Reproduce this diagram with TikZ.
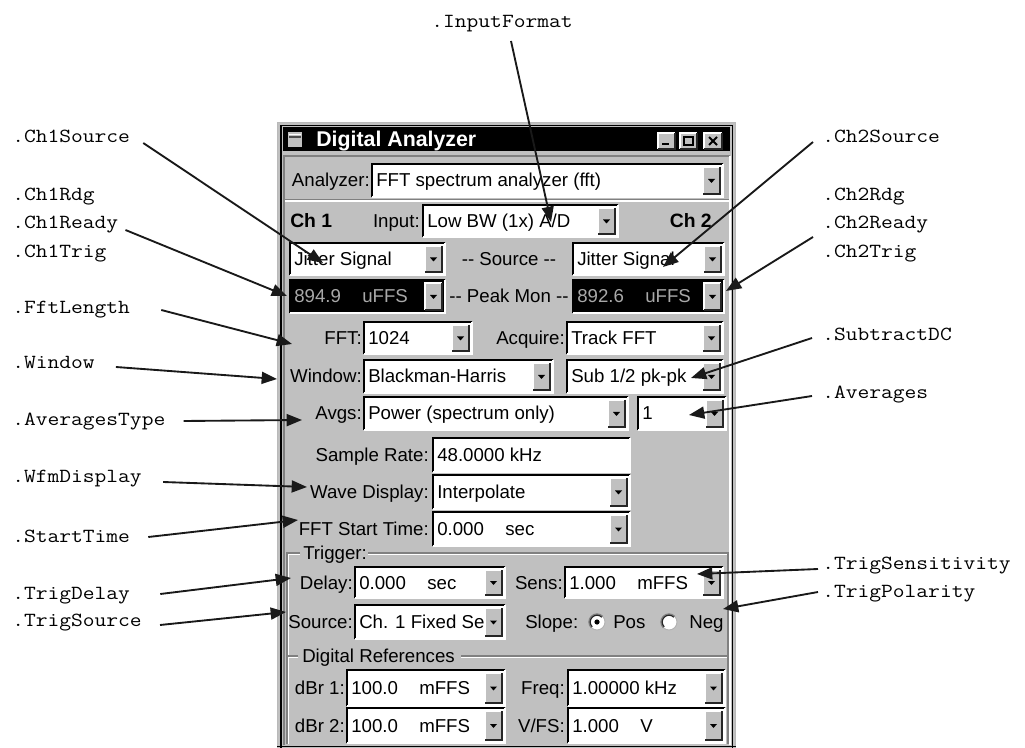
\documentclass[tikz,border=0pt]{standalone}
\usepackage{fontspec}
\usepackage{graphicx}
\setmainfont{Liberation Sans}
\usetikzlibrary{arrows.meta,calc}

\definecolor{wingray}{HTML}{C0C0C0}
\definecolor{windark}{HTML}{808080}
\definecolor{lcdtext}{HTML}{A8A8A8}

% typewriter property name, widened to a 12px character pitch
\newcommand\propname[1]{\scalebox{1.143}[1]{#1}}
% gap between a value and its unit inside a field
\newcommand\unitgap{\hspace{16pt}}

% raised drop-down button with its arrow: x1,y1,x2,y2
\newcommand\uidrop[4]{%
  \fill[wingray] ({#1},{#2}) rectangle ({#3},{#4});
  \draw[white, line width=0.9pt] ({#1},{#4}) -- ({#1},{#2}) -- ({#3},{#2});
  \draw[black!85, line width=0.9pt] ({#3},{#2}) -- ({#3},{#4}) -- ({#1},{#4});
  \fill[black] ({(#1+#3)/2-3.5},{(#2+#4)/2-1.5}) -- ++(7,0) -- ++(-3.5,4) -- cycle;
}
% sunken border of an edit field: x1,y1,x2,y2
\newcommand\uisunken[4]{%
  \draw[black, line width=1.5pt] ({#1},{#4}) -- ({#1},{#2}) -- ({#3},{#2});
  \draw[white, line width=1.5pt] ({#3},{#2}) -- ({#3},{#4}) -- ({#1},{#4});
}
% combo box: fill, text colour, name, x1, y1, x2, y2, value
\newcommand\uicombo[8]{%
  \fill[#1] (#4,#5) rectangle (#6,#7);
  \node[uival, text=#2] (#3) at ({#4+4},{(#5+#7)/2+6.5}) {#8};
  \uisunken{#4}{#5}{#6}{#7}%
  \uidrop{#6-20}{#5+3}{#6-3}{#7-3}%
}
% plain edit field: name, x1, y1, x2, y2, value
\newcommand\uiedit[6]{%
  \fill[white] (#2,#3) rectangle (#4,#5);
  \node[uival] (#1) at ({#2+4},{(#3+#5)/2+6.5}) {#6};
  \uisunken{#2}{#3}{#4}{#5}%
}
% radio button, shaded on its upper left: x, y
% (y runs downwards here, so angles 135..315 sweep over the top left)
\newcommand\uiradio[2]{%
  \fill[white] (#1,#2) circle[radius=8];
  \draw[gray!60, line width=0.7pt] (#1,#2) circle[radius=8];
  \draw[windark, line width=1pt] ([shift={(#1,#2)}]135:8) arc[start angle=135, end angle=315, radius=8];
  \draw[black!85, line width=0.9pt] ([shift={(#1,#2)}]135:6.8) arc[start angle=135, end angle=315, radius=6.8];
}

\begin{document}
\begin{tikzpicture}[x=0.75pt,y=-0.75pt,
  callout/.style={font=\ttfamily\fontsize{15}{18}\selectfont, inner sep=0pt, anchor=base west},
  ptr/.style={line width=1.4pt, draw=black!90, -{Triangle[length=11.5pt,width=9pt]}},
  uitext/.style={font=\fontsize{14}{16}\selectfont, inner sep=0pt},
  uilbl/.style={uitext, anchor=base east},
  uival/.style={uitext, anchor=base west},
  chhead/.style={inner sep=0pt, font=\bfseries\fontsize{14.5}{16}\selectfont},
  groove/.style={draw=windark, line width=0.8pt},
  grooveh/.style={draw=white, line width=0.8pt},
]
\useasboundingbox (0,0) rectangle (1025,748);

% ---------- window frame ----------
\fill[wingray] (277,122) rectangle (736,748);
\draw[gray!55, line width=0.8pt] (277.5,748) -- (277.5,122.5) -- (735.5,122.5) -- (735.5,748);
\draw[black, line width=1.3pt] (281,748) -- (281,125.5) -- (732.5,125.5) -- (732.5,748);
\draw[black, line width=1.3pt] (277,746.5) -- (736,746.5);

% title bar
\fill[black] (283,127) rectangle (730,151);
\fill[wingray] (288,132) rectangle (302,147);
\draw[white, line width=1pt] (289,134.5) -- (301,134.5);
\draw[black!70, line width=1pt] (289,137) -- (301,137);
\node[font=\bfseries\fontsize{16}{18}\selectfont, text=white, inner sep=0pt, anchor=base west]
  (title) at (316,146.5) {Digital Analyzer};
% minimise / maximise / close
\uidrop{658}{133}{675}{149}
\fill[wingray] (659,134) rectangle (674,148);
\fill[black] (662,143) rectangle (669,145.5);
\uidrop{680}{133}{697}{149}
\fill[wingray] (681,134) rectangle (696,148);
\draw[black, line width=0.8pt] (684,137) rectangle (693,145);
\draw[black, line width=1.5pt] (684,137.5) -- (693,137.5);
\uidrop{704}{133}{722}{149}
\fill[wingray] (705,134) rectangle (721,148);
\draw[black, line width=1.5pt] (709,137) -- (717,145) (717,137) -- (709,145);

% client area border
\draw[windark, line width=1pt] (284,745) -- (284,156) -- (730,156);
\draw[white, line width=1pt] (730,156) -- (730,745);
\draw[windark, line width=0.8pt] (285,199.5) -- (729,199.5);
\draw[white, line width=0.8pt] (285,201) -- (729,201);

% ---------- analyzer / channels ----------
\node[uilbl] (lblAnalyzer) at (370,187) {Analyzer:};
\uicombo{white}{black}{fAnalyzer}{372}{164}{723}{197}{FFT spectrum analyzer (fft)}

\node[chhead, anchor=base west] (hCh1) at (290,228) {Ch 1};
\node[uilbl] (lblInput) at (420,228) {Input:};
\uicombo{white}{black}{fInput}{423}{205}{618}{237}{Low BW (1x) A/D}
\node[chhead, anchor=base east] (hCh2) at (712,228) {Ch 2};

\uicombo{white}{black}{fCh1Src}{290}{243}{445}{275}{Jitter Signal}
\node[uitext, anchor=base] (lblSource) at (509,265.5) {-{}- Source -{}-};
\uicombo{white}{black}{fCh2Src}{573}{243}{724}{275}{Jitter Signal}

\uicombo{black}{lcdtext}{fCh1Rdg}{290}{280}{445}{313}{894.9\unitgap uFFS}
\node[uitext, anchor=base] (lblPeak) at (509,303) {-{}- Peak Mon -{}-};
\uicombo{black}{lcdtext}{fCh2Rdg}{573}{280}{724}{313}{892.6\unitgap uFFS}

% ---------- FFT settings ----------
\node[uilbl] (lblFft) at (362,344.5) {FFT:};
\uicombo{white}{black}{fFft}{364}{322}{472}{354}{1024}
\node[uilbl] (lblAcquire) at (565,344.5) {Acquire:};
\uicombo{white}{black}{fAcquire}{567}{322}{723}{354}{Track FFT}

\node[uilbl] (lblWindow) at (362,383) {Window:};
\uicombo{white}{black}{fWindow}{364}{360}{553}{393}{Blackman-Harris}
\uicombo{white}{black}{fSubDC}{567}{360}{723}{393}{Sub 1/2 pk-pk}

\node[uilbl] (lblAvgs) at (362,420) {Avgs:};
\uicombo{white}{black}{fAvgType}{364}{397}{628}{430}{Power (spectrum only)}
\uicombo{white}{black}{fAvg}{638}{397}{726}{430}{1}

\node[uilbl] (lblRate) at (429,461.5) {Sample Rate:};
\uiedit{fRate}{433}{438}{630}{472}{48.0000 kHz}
\node[uilbl] (lblWave) at (429,498.5) {Wave Display:};
\uicombo{white}{black}{fWave}{433}{475}{630}{509}{Interpolate}
\node[uilbl] (lblStart) at (429,535.5) {FFT Start Time:};
\uicombo{white}{black}{fStart}{433}{512}{630}{546}{0.000\unitgap sec}

% ---------- trigger group ----------
\draw[groove] (300,553) -- (287,553) -- (287,744);
\draw[groove] (368,553) -- (728,553) -- (728,744);
\draw[grooveh] (300,554.5) -- (288.5,554.5) -- (288.5,744);
\draw[grooveh] (368,554.5) -- (727,554.5);
\node[uival] (gTrigger) at (303,559.5) {Trigger:};

\node[uilbl] (lblDelay) at (353,589) {Delay:};
\uicombo{white}{black}{fDelay}{355}{567}{505}{598}{0.000\unitgap sec}
\node[uilbl] (lblSens) at (563,589) {Sens:};
\uicombo{white}{black}{fSens}{565}{567}{723}{598}{1.000\unitgap mFFS}

\node[uilbl] (lblTrigSrc) at (353,628.5) {Source:};
\uicombo{white}{black}{fTrigSrc}{355}{605}{505}{639}{Ch. 1 Fixed Se}
\node[uival] (lblSlope) at (525,628.5) {Slope:};
\uiradio{597}{622}
\fill[black] (597,622) circle[radius=2.6];
\node[uival] (optPos) at (613,628.5) {Pos};
\uiradio{669}{622}
\node[uival] (optNeg) at (689,628.5) {Neg};

% ---------- digital references group ----------
\draw[groove] (298,656) -- (287,656);
\draw[groove] (461,656) -- (728,656);
\draw[grooveh] (298,657.5) -- (288.5,657.5);
\draw[grooveh] (461,657.5) -- (727,657.5);
\node[uival] (gRefs) at (302,662.5) {Digital References};

\node[uilbl] (lblDbr1) at (345,694.5) {dBr 1:};
\uicombo{white}{black}{fDbr1}{347}{670}{505}{706}{100.0\unitgap mFFS}
\node[uilbl] (lblFreq) at (565,694.5) {Freq:};
\uicombo{white}{black}{fFreq}{568}{670}{725}{706}{1.00000 kHz}
\node[uilbl] (lblDbr2) at (345,732) {dBr 2:};
\uicombo{white}{black}{fDbr2}{347}{708}{505}{743}{100.0\unitgap mFFS}
\node[uilbl] (lblVfs) at (565,732) {V/FS:};
\uicombo{white}{black}{fVfs}{568}{708}{725}{743}{1.000\unitgap V}

% ---------- property names ----------
\node[callout, anchor=base] (lInputFormat) at (502,28) {\propname{.InputFormat}};
\node[callout] (lCh1Source) at (12,143) {\propname{.Ch1Source}};
\node[callout] (lCh1Rdg) at (12,201) {\propname{.Ch1Rdg}};
\node[callout] (lCh1Ready) at (12,229) {\propname{.Ch1Ready}};
\node[callout] (lCh1Trig) at (12,258) {\propname{.Ch1Trig}};
\node[callout] (lFftLength) at (12,314) {\propname{.FftLength}};
\node[callout] (lWindow) at (12,369) {\propname{.Window}};
\node[callout] (lAveragesType) at (12,426) {\propname{.AveragesType}};
\node[callout] (lWfmDisplay) at (12,483) {\propname{.WfmDisplay}};
\node[callout] (lStartTime) at (12,542) {\propname{.StartTime}};
\node[callout] (lTrigDelay) at (12,599) {\propname{.TrigDelay}};
\node[callout] (lTrigSource) at (12,626) {\propname{.TrigSource}};
\node[callout] (lCh2Source) at (822,143) {\propname{.Ch2Source}};
\node[callout] (lCh2Rdg) at (822,201) {\propname{.Ch2Rdg}};
\node[callout] (lCh2Ready) at (822,229) {\propname{.Ch2Ready}};
\node[callout] (lCh2Trig) at (822,258) {\propname{.Ch2Trig}};
\node[callout] (lSubtractDC) at (822,341) {\propname{.SubtractDC}};
\node[callout] (lAverages) at (822,399) {\propname{.Averages}};
\node[callout] (lTrigSensitivity) at (822,569) {\propname{.TrigSensitivity}};
\node[callout] (lTrigPolarity) at (822,597) {\propname{.TrigPolarity}};

% points on the controls that the pointers reach
\coordinate (tInput) at (551,222);
\coordinate (tCh1Src) at (323,263);
\coordinate (tCh1Rdg) at (287,296);
\coordinate (tCh2Src) at (663,267);
\coordinate (tCh2Rdg) at (726,291);
\coordinate (tFft) at (292,344);
\coordinate (tWindow) at (277,379);
\coordinate (tAvgType) at (302,420);
\coordinate (tWfm) at (307,487);
\coordinate (tStart) at (298,520);
\coordinate (tTrigDelay) at (291,578);
\coordinate (tTrigSrc) at (286,612);
\coordinate (tSubDC) at (691,378);
\coordinate (tAvg) at (689,415);
\coordinate (tSens) at (697,574);
\coordinate (tPol) at (723,609);

% ---------- pointers ----------
\draw[ptr] ($(lInputFormat.base)+(9,13)$) -- (tInput);
\draw[ptr] ($(lCh1Source.base east)+(13,0)$) -- (tCh1Src);
\draw[ptr] ($(lCh1Ready.base east)+(7,1)$) -- (tCh1Rdg);
\draw[ptr] ($(lFftLength.base east)+(31,-4)$) -- (tFft);
\draw[ptr] ($(lWindow.base east)+(21,-2)$) -- (tWindow);
\draw[ptr] ($(lAveragesType.base east)+(18,-5)$) -- (tAvgType);
\draw[ptr] ($(lWfmDisplay.base east)+(21,-1)$) -- (tWfm);
\draw[ptr] ($(lStartTime.base east)+(18,-5)$) -- (tStart);
\draw[ptr] ($(lTrigDelay.base east)+(30,-5)$) -- (tTrigDelay);
\draw[ptr] ($(lTrigSource.base east)+(18,-1)$) -- (tTrigSrc);
\draw[ptr] ($(lCh2Source.base west)+(-9,-1)$) -- (tCh2Src);
\draw[ptr] ($(lCh2Ready.base west)+(-9,8)$) -- (tCh2Rdg);
\draw[ptr] ($(lSubtractDC.base west)+(-10,-3)$) -- (tSubDC);
\draw[ptr] ($(lAverages.base west)+(-10,-3)$) -- (tAvg);
\draw[ptr] ($(lTrigSensitivity.base west)+(-4,0)$) -- (tSens);
\draw[ptr] ($(lTrigPolarity.base west)+(-4,-5)$) -- (tPol);
\end{tikzpicture}
\end{document}
